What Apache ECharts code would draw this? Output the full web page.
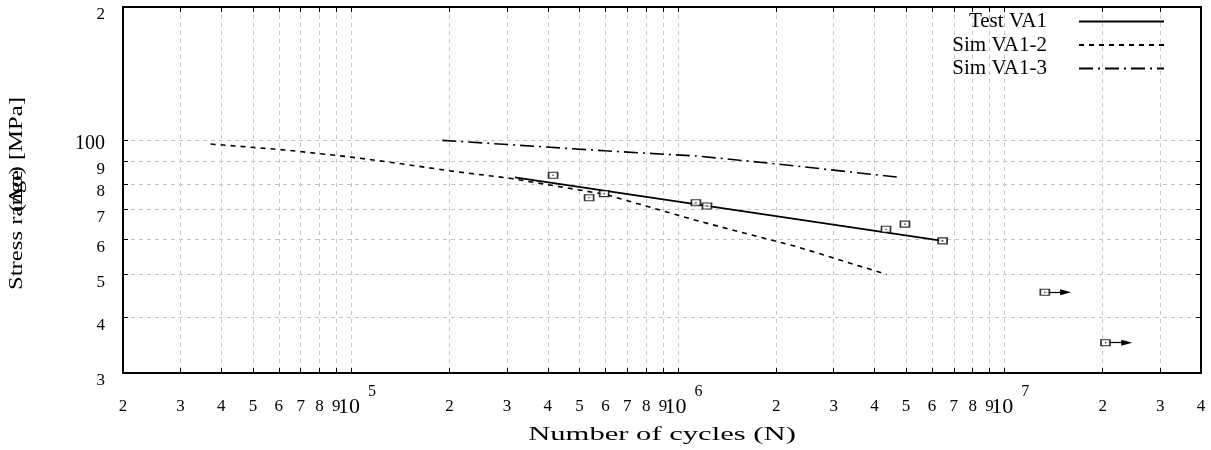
<!DOCTYPE html>
<html><head><meta charset="utf-8">
<script src="https://cdn.jsdelivr.net/npm/echarts@6/dist/echarts.min.js"></script>
<style>html,body{margin:0;padding:0;background:#fff}#c{width:1211px;height:450px}</style>
</head><body><div id="c"></div>
<script>
// ---- data ----
const xTickValues = [2e4,3e4,4e4,5e4,6e4,7e4,8e4,9e4,1e5,2e5,3e5,4e5,5e5,6e5,7e5,8e5,9e5,1e6,2e6,3e6,4e6,5e6,6e6,7e6,8e6,9e6,1e7,2e7,3e7,4e7];
const xTickLabels = ['2','3','4','5','6','7','8','9','10^5','2','3','4','5','6','7','8','9','10^6','2','3','4','5','6','7','8','9','10^7','2','3','4'];
const xGridValues = [3e4,4e4,5e4,6e4,7e4,8e4,9e4,1e5,2e5,3e5,4e5,5e5,6e5,7e5,8e5,9e5,1e6,2e6,3e6,4e6,5e6,6e6,7e6,8e6,9e6,1e7,2e7,3e7];
const yTickValues = [30,40,50,60,70,80,90,100,200];
const yTickLabels = ['3','4','5','6','7','8','9','100','2'];
const yGridValues = [40,50,60,70,80,90,100];

const testFit = [[3.17e5,82.7],[6.47e6,59.5]];
const simVA12 = [[3.71e4,98.3],[6.30e4,95.3],[9.84e4,92.0],[1.40e5,88.9],[1.99e5,85.6],[3.10e5,82.2],[6.00e5,75.7],[1.16e6,65.9],[2.34e6,57.6],[4.36e6,50.0]];
const simVA13 = [[1.90e5,100.2],[6.00e5,94.9],[1.16e6,92.3],[1.94e6,88.9],[4.79e6,82.7]];
const testPoints = [[4.15e5,83.6],[5.35e5,74.4],[5.95e5,76.0],[1.136e6,72.5],[1.228e6,71.3],[4.34e6,63.2],[4.96e6,64.9],[6.47e6,59.5]];
const runoutPoints = [[1.33e7,45.6],[2.04e7,35.1]];
const runoutArrowEnd = [1.54e7,2.37e7];

const seriesNames = ['Test VA1','Sim VA1-2','Sim VA1-3'];
const xTitle = 'Number of cycles (N)';
const yTitleA = 'Stress range';
const yTitleB = '(\u0394\u03c3) [MPa]';

// ---- chart ----
const FONT = 'Liberation Serif';
function labelFor(values, labels) {
  return function (v) {
    let best = 0, bd = Infinity;
    values.forEach((t, i) => { const d = Math.abs(Math.log10(t) - Math.log10(v)); if (d < bd) { bd = d; best = i; } });
    const s = labels[best];
    const m = s.match(/^10\^(\d+)$/);
    if (m) return '{b|10}{s|' + m[1] + '}';
    if (s.length > 1) return '{big|' + s + '}';
    return '{d|' + s + '}';
  };
}
const gridLine = { show: true, lineStyle: { color: '#c4c4c4', width: 1, type: [4, 4] } };
const border = { show: true, lineStyle: { color: '#000', width: 2 } };

const chart = echarts.init(document.getElementById('c'), null, { renderer: 'canvas' });
chart.setOption({
  animation: false,
  backgroundColor: '#fff',
  grid: { left: 123, right: 10, top: 7, bottom: 77, containLabel: false, outerBoundsMode: 'none' },
  legend: {
    data: seriesNames, orient: 'vertical', align: 'right', right: 46, top: 11, padding: 0,
    itemWidth: 85, itemHeight: 14, itemGap: 2.5, selectedMode: false,
    itemStyle: { color: 'rgba(0,0,0,0)', borderColor: 'rgba(0,0,0,0)', borderWidth: 0, opacity: 0 },
    textStyle: { fontFamily: FONT, fontSize: 21, color: '#000', lineHeight: 20, padding: [0, 27, 0, 0] }
  },
  xAxis: [{
    type: 'log', logBase: 10, min: 2e4, max: 4e7, position: 'bottom',
    axisLine: border,
    axisTick: { show: true, inside: true, length: 5, customValues: xGridValues, lineStyle: { color: '#000', width: 1 } },
    splitLine: gridLine,
    minorTick: { show: false }, minorSplitLine: { show: false },
    axisLabel: {
      customValues: xTickValues, formatter: labelFor(xTickValues, xTickLabels),
      margin: 34, verticalAlign: 'middle', color: '#000', fontFamily: FONT,
      rich: {
        d: { fontFamily: FONT, fontSize: 17, color: '#000' },
        b: { fontFamily: FONT, fontSize: 22, color: '#000', padding: [0, 0, 0, 11.5] },
        s: { fontFamily: FONT, fontSize: 16, color: '#000', padding: [0, 0, 31, 8] }
      }
    }
  }, {
    type: 'log', logBase: 10, min: 2e4, max: 4e7, position: 'top',
    axisLine: border,
    axisTick: { show: true, inside: true, length: 5, customValues: xGridValues, lineStyle: { color: '#000', width: 1 } },
    splitLine: { show: false }, axisLabel: { show: false }
  }],
  yAxis: [{
    type: 'log', logBase: 10, min: 30, max: 200, position: 'left',
    axisLine: border,
    axisTick: { show: true, inside: true, length: 5, customValues: yGridValues, lineStyle: { color: '#000', width: 1 } },
    splitLine: gridLine,
    minorTick: { show: false }, minorSplitLine: { show: false },
    axisLabel: {
      customValues: yTickValues, formatter: labelFor(yTickValues, yTickLabels),
      margin: 18, color: '#000', fontFamily: FONT,
      rich: {
        d: { fontFamily: FONT, fontSize: 17, color: '#000', padding: [16, 0, 0, 0] },
        big: { fontFamily: FONT, fontSize: 20, color: '#000', padding: [7, 0, 0, 0] }
      }
    }
  }, {
    type: 'log', logBase: 10, min: 30, max: 200, position: 'right',
    axisLine: border,
    axisTick: { show: true, inside: true, length: 5, customValues: yGridValues, lineStyle: { color: '#000', width: 1 } },
    splitLine: { show: false }, axisLabel: { show: false }
  }],
  graphic: [
    { type: 'text', x: 662, y: 435, scaleX: 1.7,
      style: { text: xTitle, fontFamily: FONT, fontSize: 18, fill: '#000', align: 'center', verticalAlign: 'middle' } },
    { type: 'text', x: 17, y: 290, rotation: Math.PI / 2, scaleX: 1.3,
      style: { text: yTitleA, fontFamily: FONT, fontSize: 19, fill: '#000', align: 'left', verticalAlign: 'middle' } },
    { type: 'text', x: 17, y: 97, rotation: Math.PI / 2, scaleX: 1.3,
      style: { text: yTitleB, fontFamily: FONT, fontSize: 19, fill: '#000', align: 'right', verticalAlign: 'middle' } }
  ],
  series: [
    { name: seriesNames[0], type: 'line', data: testFit, symbol: 'none', z: 3,
      lineStyle: { color: '#000', width: 1.6, type: 'solid' }, itemStyle: { color: '#000' } },
    { name: seriesNames[1], type: 'line', data: simVA12, symbol: 'none', z: 2,
      lineStyle: { color: '#000', width: 1.6, type: [5, 5] }, itemStyle: { color: '#000' } },
    { name: seriesNames[2], type: 'line', data: simVA13, symbol: 'none', z: 2,
      lineStyle: { color: '#000', width: 1.6, type: [14, 5, 2, 5] }, itemStyle: { color: '#000' } },
    { name: 'arrows', type: 'scatter', data: [], z: 2,
      markLine: {
        silent: true, symbol: ['none', 'triangle'], symbolSize: [6, 11], animation: false,
        label: { show: false },
        lineStyle: { color: '#000', width: 1.2, type: 'solid' },
        data: runoutPoints.map((p, i) => [{ coord: [p[0], p[1]] }, { coord: [runoutArrowEnd[i], p[1]] }])
      } },
    { name: 'Test data', type: 'scatter', data: testPoints.concat(runoutPoints), symbol: 'rect', symbolSize: [9, 6], z: 5,
      itemStyle: { color: '#fff', borderColor: '#000', borderWidth: 1.4 } },
    { name: 'Test data dots', type: 'scatter', data: testPoints.concat(runoutPoints), symbol: 'circle', symbolSize: 1.6, z: 6,
      itemStyle: { color: '#000' } }
  ]
});
</script></body></html>
